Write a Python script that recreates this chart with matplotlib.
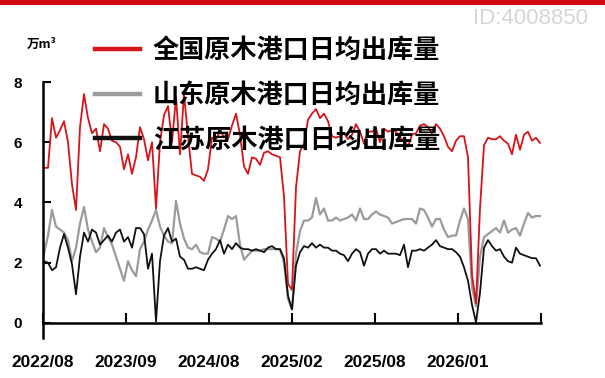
import matplotlib.pyplot as plt
from matplotlib.lines import Line2D
import numpy as np

# 日均出库量 (万m³), one value per sample
national = [5.15, 5.15, 6.8, 6.15, 6.4, 6.7, 6.0, 4.6, 3.75, 6.5,
            7.6, 6.8, 6.3, 6.45, 5.7, 6.6, 6.45, 6.05, 6.0, 5.85,
            5.1, 5.6, 4.95, 5.5, 6.5, 6.1, 5.4, 6.0, 3.8, 6.0,
            6.9, 7.2, 6.0, 7.5, 5.6, 7.6, 6.2, 4.95, 4.9, 4.85,
            4.72, 5.1, 6.15, 6.1, 6.35, 6.2, 6.1, 6.55, 6.95, 6.25,
            5.2, 4.95, 5.5, 5.45, 5.25, 5.65, 5.7, 5.6, 5.55, 5.5,
            4.2, 1.3, 1.1, 4.5, 5.7, 5.95, 6.75, 6.95, 7.1, 6.8,
            6.95, 6.7, 6.2, 6.15, 6.2, 6.3, 6.1, 6.25, 6.6, 6.35,
            5.95, 6.35, 6.35, 6.45, 6.0, 6.45, 6.35, 6.4, 6.35, 6.15,
            6.05, 5.85, 6.25, 6.3, 6.55, 6.6, 6.5, 6.3, 6.6, 6.45,
            6.2, 5.85, 5.7, 6.05, 6.2, 6.2, 5.5, 1.6, 0.65, 3.8,
            5.9, 6.15, 6.1, 6.1, 6.2, 6.05, 5.95, 5.6, 6.25, 5.75,
            6.25, 6.35, 6.05, 6.15, 5.98]
shandong = [2.3, 2.9, 3.75, 3.2, 3.1, 3.0, 2.75, 2.05, 2.5, 3.3,
            3.85, 3.1, 2.7, 2.35, 2.5, 3.15, 2.85, 2.6, 2.2, 1.8,
            1.4, 2.05, 1.75, 1.55, 2.45, 2.7, 3.1, 3.4, 3.75, 3.2,
            2.9, 2.7, 2.65, 4.05, 3.3, 2.8, 2.5, 2.45, 2.6, 2.35,
            2.3, 2.3, 2.85, 2.8, 2.7, 3.1, 3.55, 3.45, 3.55, 2.6,
            2.1, 2.25, 2.4, 2.4, 2.4, 2.45, 2.45, 2.45, 2.45, 2.45,
            2.0, 0.8, 0.45, 2.3, 3.05, 3.4, 3.4, 3.5, 4.15, 3.6,
            3.8, 3.4, 3.4, 3.5, 3.4, 3.45, 3.5, 3.6, 3.4, 3.8,
            3.45, 3.45, 3.6, 3.7, 3.6, 3.55, 3.5, 3.3, 3.35, 3.4,
            3.45, 3.45, 3.45, 3.3, 3.8, 3.75, 3.5, 3.2, 3.45, 3.45,
            3.1, 2.85, 2.9, 2.9, 3.4, 3.8, 3.45, 1.2, 0.55, 2.2,
            2.85, 2.95, 3.05, 3.15, 3.0, 3.4, 3.0, 3.1, 3.15, 2.9,
            3.3, 3.65, 3.5, 3.55, 3.55]
jiangsu = [2.05, 2.0, 1.75, 1.85, 2.5, 2.95, 2.5, 1.95, 0.95, 2.2,
           3.0, 2.7, 3.1, 3.0, 2.6, 2.75, 2.9, 2.7, 3.0, 3.1,
           2.7, 2.85, 2.5, 3.15, 3.15, 2.95, 1.8, 2.3, 0.05, 2.05,
           2.9, 3.15, 2.7, 2.8, 2.2, 2.1, 1.8, 1.8, 1.85, 1.8,
           1.75, 2.1, 2.3, 2.45, 2.75, 2.3, 2.6, 2.45, 2.65, 2.5,
           2.45, 2.45, 2.4, 2.45, 2.4, 2.35, 2.5, 2.55, 2.45, 2.45,
           2.15, 0.9, 0.45, 1.9, 2.35, 2.55, 2.5, 2.65, 2.5, 2.6,
           2.5, 2.5, 2.4, 2.4, 2.3, 2.25, 2.05, 2.3, 2.45, 2.35,
           1.9, 2.3, 2.45, 2.45, 2.3, 2.4, 2.3, 2.3, 2.3, 2.25,
           2.6, 1.85, 2.4, 2.4, 2.45, 2.4, 2.5, 2.6, 2.75, 2.55,
           2.5, 2.45, 2.45, 2.35, 2.2, 1.85, 1.4, 0.6, 0.02, 1.0,
           2.5, 2.75, 2.55, 2.4, 2.45, 2.2, 2.05, 2.0, 2.5, 2.3,
           2.25, 2.2, 2.15, 2.15, 1.9]

labels = ["全国原木港口日均出库量", "山东原木港口日均出库量", "江苏原木港口日均出库量"]
date_labels = ["2022/08", "2023/09", "2024/08", "2025/02", "2025/08", "2026/01", ""]
y_ticks = [0, 2, 4, 6, 8]

RED = "#d7141a"
GRAY = "#9b9b9b"
BLACK = "#111111"
CJK = ["Noto Sans CJK SC", "DejaVu Sans"]

plt.rcParams["font.family"] = CJK

fig = plt.figure(figsize=(6.05, 3.78), dpi=100)
ax = fig.add_axes([43 / 605, 40 / 378, 498 / 605, 256 / 378])

x = np.arange(len(national))
ax.plot(x, shandong, color=GRAY, lw=1.6, solid_joinstyle="round")
ax.plot(x, jiangsu, color=BLACK, lw=1.3, solid_joinstyle="round")
ax.plot(x, national, color=RED, lw=1.3, solid_joinstyle="round")

# spine placement resets the ticks, so do it before styling them
for s in ("top", "right"):
    ax.spines[s].set_visible(False)
ax.spines["bottom"].set_position(("data", 0))
ax.spines["left"].set_linewidth(1.8)
ax.spines["bottom"].set_linewidth(1.8)

ax.set_xlim(-0.25, len(national) - 0.75)
ax.set_ylim(-0.5, 8)
ax.set_yticks(y_ticks, [str(v) for v in y_ticks],
              fontfamily="Liberation Sans", fontweight="bold", fontsize=11)
ax.set_xticks(np.linspace(-0.25, len(national) - 0.75, 7), date_labels,
              fontfamily="Liberation Sans", fontweight="bold", fontsize=12.4)
ax.tick_params(axis="y", direction="in", length=6, width=1.5, pad=15)
ax.tick_params(axis="x", direction="in", length=7.5, width=1.5, pad=23)

handles = [Line2D([], [], color=c, lw=3.2) for c in (RED, GRAY, BLACK)]
leg = fig.legend(handles, labels, loc="upper left", bbox_to_anchor=(95 / 605, 1 - 37 / 378),
                 frameon=False, prop={"family": CJK, "weight": "bold", "size": 18.8},
                 handlelength=1.72, handletextpad=0.5, labelspacing=0.68,
                 borderpad=0, borderaxespad=0)

fig.text(27 / 605, 1 - 44 / 378, "万m³", fontsize=9, fontweight="bold", va="center")
fig.text(588 / 605, 1 - 19 / 378, "ID:4008850", family="Liberation Sans", fontsize=16,
         color="#d6d6d6", ha="right", va="center")
fig.add_artist(plt.Rectangle((0, 1 - 5 / 378), 1, 5 / 378, transform=fig.transFigure,
                             facecolor="#d00a12", edgecolor="none"))

fig.savefig("out.png", dpi=100)
